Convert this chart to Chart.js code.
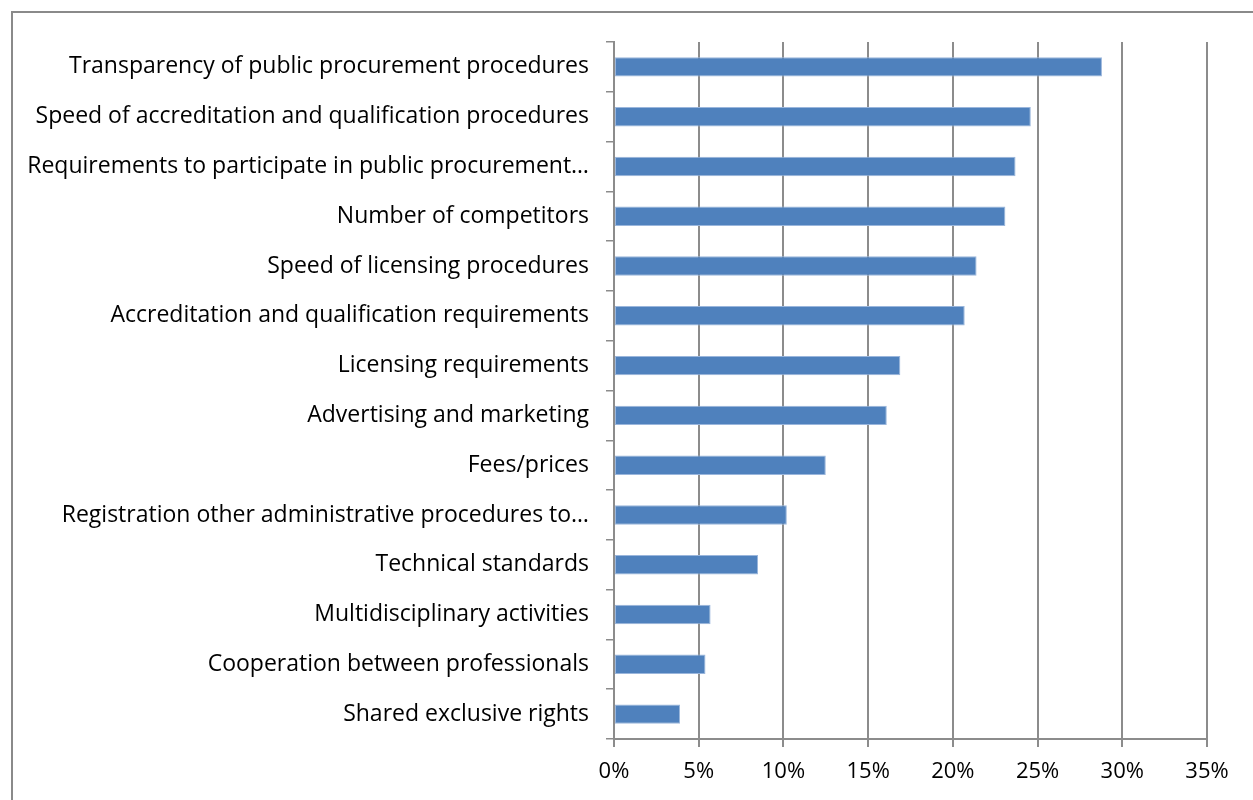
<!DOCTYPE html>
<html>
<head>
<meta charset="utf-8">
<script src="https://cdn.jsdelivr.net/npm/chart.js@4/dist/chart.umd.min.js"></script>
<style>
  html, body { margin: 0; padding: 0; background: #ffffff; }
  #wrap { position: relative; width: 1253px; height: 800px; }
</style>
</head>
<body>
<div id="wrap"><canvas id="chart" width="1253" height="800"></canvas></div>
<script>
// Obstacles to competition, share of respondents (%)
const categories = [
  "Transparency of public procurement procedures",
  "Speed of accreditation and qualification procedures",
  "Requirements to participate in public procurement\u2026",
  "Number of competitors",
  "Speed of licensing procedures",
  "Accreditation and qualification requirements",
  "Licensing requirements",
  "Advertising and marketing",
  "Fees/prices",
  "Registration other administrative procedures to\u2026",
  "Technical standards",
  "Multidisciplinary activities",
  "Cooperation between professionals",
  "Shared exclusive rights"
];
const shares = [28.8, 24.6, 23.7, 23.1, 21.4, 20.7, 16.9, 16.1, 12.5, 10.2, 8.5, 5.7, 5.4, 3.9];
const xTicks = [0, 5, 10, 15, 20, 25, 30, 35];

const FONT = "'Open Sans', 'Noto Sans', sans-serif";
const GRID = "#8c8c8c";

// Outer frame of the chart object
const framePlugin = {
  id: "frame",
  beforeDraw(chart) {
    const ctx = chart.ctx;
    ctx.save();
    ctx.strokeStyle = "#8a8a8a";
    ctx.lineWidth = 2;
    ctx.beginPath();
    ctx.moveTo(12, 800);
    ctx.lineTo(12, 12);
    ctx.lineTo(1253, 12);
    ctx.stroke();
    ctx.restore();
  }
};

new Chart(document.getElementById("chart"), {
  type: "bar",
  data: {
    labels: categories,
    datasets: [{
      data: shares,
      backgroundColor: "#4f81bd",
      borderColor: "#9ab6dc",
      borderWidth: 1,
      borderSkipped: false,
      categoryPercentage: 1.0,
      barPercentage: 0.39
    }]
  },
  plugins: [framePlugin],
  options: {
    indexAxis: "y",
    responsive: false,
    animation: false,
    layout: { padding: { left: 0, right: 46, top: 42, bottom: 0 } },
    plugins: { legend: { display: false }, tooltip: { enabled: false } },
    scales: {
      y: {
        afterFit(scale) { scale.width = 614; },
        grid: {
          drawOnChartArea: false,
          drawTicks: true,
          tickLength: 8,
          color: GRID,
          lineWidth: 1.5
        },
        border: { display: true, color: GRID, width: 2 },
        ticks: {
          padding: 17,
          color: "#000000",
          font: { family: FONT, size: 23 }
        }
      },
      x: {
        min: 0,
        max: 35,
        afterFit(scale) { scale.height = 61; },
        afterBuildTicks(scale) { scale.ticks = xTicks.map(v => ({ value: v })); },
        grid: {
          drawOnChartArea: true,
          drawTicks: true,
          tickLength: 8,
          color: GRID,
          lineWidth: 2
        },
        border: { display: true, color: GRID, width: 2 },
        ticks: {
          padding: 12,
          color: "#000000",
          font: { family: FONT, size: 22 },
          callback: v => v + "%"
        }
      }
    }
  }
});
</script>
</body>
</html>
